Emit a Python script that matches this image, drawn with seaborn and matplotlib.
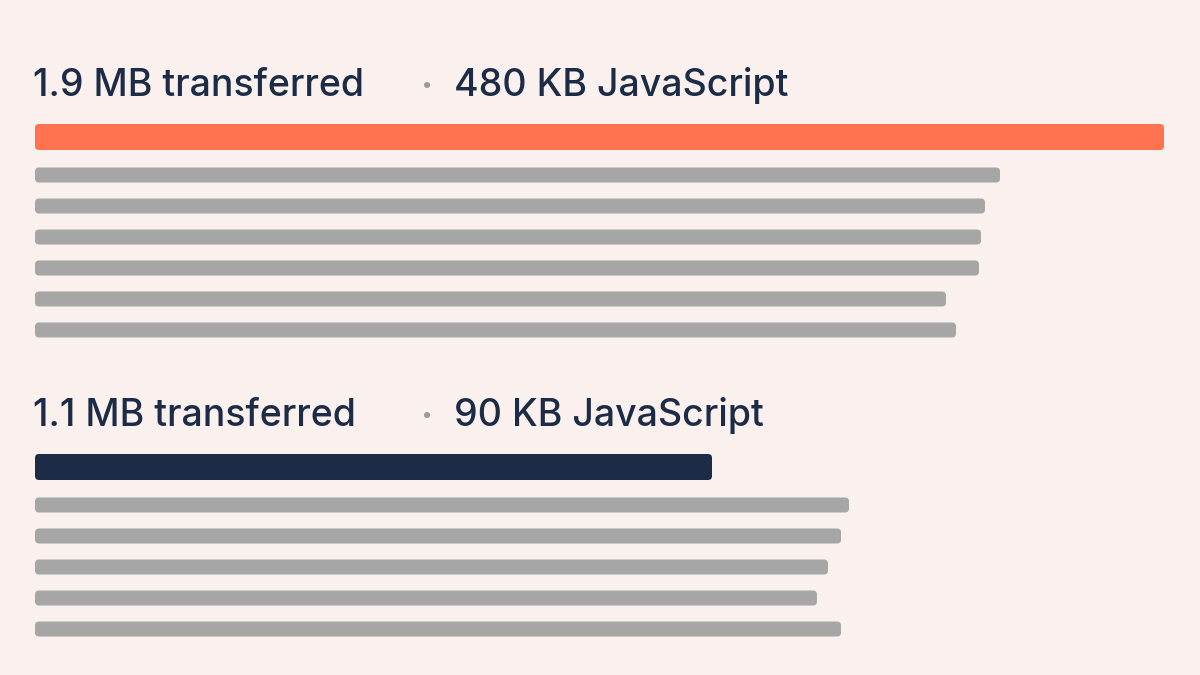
import matplotlib
matplotlib.use("Agg")
import matplotlib.pyplot as plt
from matplotlib.patches import FancyBboxPatch
import seaborn as sns

sns.set_style("white")
plt.rcParams['font.family'] = ['Inter', 'Liberation Sans', 'DejaVu Sans']

# Data (bar end positions, in pixels of a 1200-wide canvas starting at 35)
group_titles = ["1.9 MB transferred", "1.1 MB transferred"]
group_js = ["480 KB JavaScript", "90 KB JavaScript"]
main_lengths = [1129, 677]
main_colors = ["#ff7350", "#1c2c47"]
sub_lengths = [
    [965, 950, 946, 944, 911, 921],
    [814, 806, 793, 782, 806],
]

bg = "#faf1ee"
navy = "#1c2c47"
gray = "#a6a6a6"

fig = plt.figure(figsize=(12, 6.75), dpi=100, facecolor=bg)
ax = fig.add_axes([0, 0, 1, 1])
ax.set_facecolor(bg)
ax.set_xlim(0, 1200)
ax.set_ylim(675, 0)
ax.axis("off")

left = 35
group_tops = [86, 416]
for g in range(2):
    ty = group_tops[g]
    ax.text(left - 2, ty, group_titles[g], fontsize=27, color=navy, va="center",
            ha="left", fontweight="medium")
    ax.text(427, ty + 2, "·", fontsize=26, color="#9a9a9a", va="center",
            ha="center", fontweight="bold")
    ax.text(454, ty, group_js[g], fontsize=27, color=navy, va="center",
            ha="left", fontweight="medium")
    ys = [ty + 51] + [ty + 89 + 31 * i for i in range(len(sub_lengths[g]))]
    widths = [main_lengths[g]] + sub_lengths[g]
    heights = [26] + [15] * len(sub_lengths[g])
    colors = [main_colors[g]] + [gray] * len(sub_lengths[g])
    bars = ax.barh(ys, widths, left=left, height=heights, color=colors)
    for b in bars:
        x, y, w, h = b.get_x(), b.get_y(), b.get_width(), b.get_height()
        b.set_visible(False)
        ax.add_patch(FancyBboxPatch((x, y), w, h,
                                    boxstyle="round,pad=0,rounding_size=4",
                                    fc=b.get_facecolor(), ec="none"))

fig.savefig("out.png", dpi=100, facecolor=bg)
